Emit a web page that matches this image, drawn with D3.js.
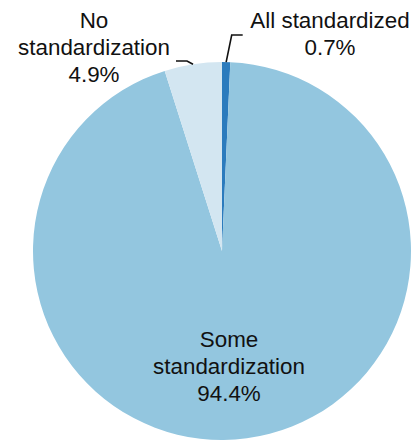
<!DOCTYPE html>
<html>
<head>
<meta charset="utf-8">
<script src="https://cdn.jsdelivr.net/npm/d3@7"></script>
<style>
  html, body { margin: 0; padding: 0; background: #ffffff; }
  svg { display: block; }
  text { font-family: "Liberation Sans", Arial, Helvetica, sans-serif; fill: #111; }
</style>
</head>
<body>
<svg id="chart" width="415" height="442"></svg>
<script>
// Data
const categories = ["All standardized", "Some standardization", "No standardization"];
const values = [0.7, 94.4, 4.9];
const labelLines = [["All standardized", "0.7%"], ["Some", "standardization", "94.4%"], ["No", "standardization", "4.9%"]];
const colors = ["#2b7bbd", "#93c6df", "#d3e6f1"];

// Layout
const W = 415, H = 442;
const cx = 222, cy = 251, R = 189;
const fontSize = 22.4, lineH = 27;

const svg = d3.select("#chart");
const g = svg.append("g").attr("transform", `translate(${cx},${cy})`);

const pie = d3.pie().sort(null).value(d => d);
const arcs = pie(values);
const arc = d3.arc().innerRadius(0).outerRadius(R);
const outerArc = d3.arc().innerRadius(R).outerRadius(R);

g.selectAll("path.slice")
  .data(arcs)
  .enter().append("path")
  .attr("class", "slice")
  .attr("d", arc)
  .attr("fill", (d, i) => colors[i]);

// Label placement (layout, relative to the pie centre)
const labelPos = [
  { x: 108, y: -223 },   // All standardized (first baseline)
  { x: 7, y: 96 },       // Some standardization
  { x: -128, y: -223 }   // No standardization
];

// Leader lines
const leaderElbows = [
  [[9.7, -216], [20.7, -216]],
  null,
  [[-35, -190], [-46, -190]]
];

arcs.forEach((a, i) => {
  if (!leaderElbows[i]) return;
  const start = outerArc.centroid(a);
  const pts = [start].concat(leaderElbows[i]);
  g.append("path")
    .attr("d", d3.line()(pts))
    .attr("fill", "none")
    .attr("stroke", "#111")
    .attr("stroke-width", 1.6);
});

arcs.forEach((a, i) => {
  const t = g.append("text")
    .attr("text-anchor", "middle")
    .attr("font-size", fontSize);
  labelLines[i].forEach((line, j) => {
    t.append("tspan")
      .attr("x", labelPos[i].x)
      .attr("y", labelPos[i].y + j * lineH)
      .text(line);
  });
});
</script>
</body>
</html>
